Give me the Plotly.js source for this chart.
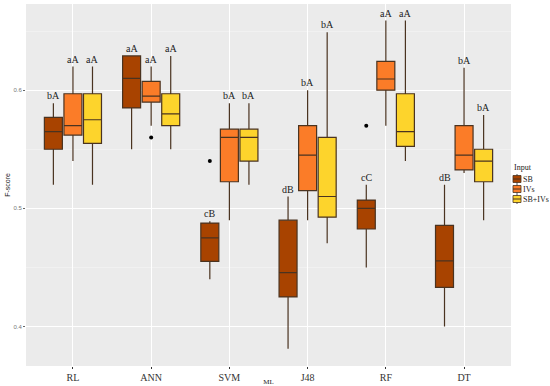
<!DOCTYPE html>
<html><head><meta charset="utf-8">
<script src="https://cdn.plot.ly/plotly-3.0.1.min.js"></script>
<style>html,body{margin:0;padding:0;background:#fff}#c{width:550px;height:386px}</style>
</head><body><div id="c"></div>
<script>
const categories = ["RL","ANN","SVM","J48","RF","DT"];
const seriesNames = ["SB","IVs","SB+IVs"];
const colors = ["#A84300","#FB7C28","#FDD42C"];

// per series, per category
const SB_low   = [0.520,0.550,0.440,0.381,0.450,0.400];
const SB_q1    = [0.550,0.585,0.455,0.425,0.4825,0.433];
const SB_med   = [0.565,0.610,0.475,0.4455,0.500,0.4555];
const SB_q3    = [0.577,0.629,0.4875,0.490,0.507,0.4855];
const SB_high  = [0.589,0.629,0.489,0.510,0.520,0.520];
const SB_lab   = ["bA","aA","cB","dB","cC","dB"];

const IV_low   = [0.540,0.570,0.490,0.490,0.570,0.530];
const IV_q1    = [0.562,0.590,0.5225,0.515,0.600,0.5325];
const IV_med   = [0.570,0.595,0.560,0.545,0.6095,0.545];
const IV_q3    = [0.597,0.6075,0.567,0.570,0.6245,0.570];
const IV_high  = [0.620,0.620,0.589,0.600,0.659,0.619];
const IV_lab   = ["aA","aA","bA","bA","aA","bA"];

const SI_low   = [0.520,0.550,0.520,0.4705,0.540,0.490];
const SI_q1    = [0.555,0.570,0.540,0.4925,0.5525,0.5225];
const SI_med   = [0.575,0.580,0.560,0.510,0.565,0.540];
const SI_q3    = [0.597,0.597,0.567,0.560,0.597,0.550];
const SI_high  = [0.620,0.629,0.589,0.649,0.659,0.579];
const SI_lab   = ["aA","aA","bA","bA","aA","bA"];

// outliers
const outCat = [1,2,4];
const outSer = [1,0,0];
const outVal = [0.560,0.540,0.570];

const stats = [
  {low:SB_low,q1:SB_q1,med:SB_med,q3:SB_q3,high:SB_high,lab:SB_lab},
  {low:IV_low,q1:IV_q1,med:IV_med,q3:IV_q3,high:IV_high,lab:IV_lab},
  {low:SI_low,q1:SI_q1,med:SI_med,q3:SI_q3,high:SI_high,lab:SI_lab}
];
const offsets = [-0.25,0,0.25];
const serif = "Liberation Serif, DejaVu Serif, serif";
const sans = "Liberation Sans, Arial, sans-serif";

const traces = [];
const annotations = [];
const shapes = [];
stats.forEach((s,k)=>{
  const xs = categories.map((c,i)=>i+offsets[k]);
  traces.push({
    type:"box", name:seriesNames[k], x:xs, showlegend:false,
    q1:s.q1, median:s.med, q3:s.q3, lowerfence:s.low, upperfence:s.high,
    width:0.23, whiskerwidth:0, boxpoints:false,
    fillcolor:colors[k], line:{color:"#4a3320",width:1.2},
    hoverinfo:"skip"
  });
  xs.forEach((x,i)=>annotations.push({
    x:x, y:s.high[i], xref:"x", yref:"y", text:s.lab[i], showarrow:false,
    yanchor:"bottom", yshift:0, font:{family:serif,size:10,color:"#222"}
  }));
});
traces.push({
  type:"scatter", mode:"markers", showlegend:false,
  x:outCat.map((c,j)=>c+offsets[outSer[j]]), y:outVal,
  marker:{color:"#000",size:4}, hoverinfo:"skip"
});

// custom compact legend (paper coordinates)
const W = 485, H = 362, L = 26, B = 366;
const px = v => (v - L) / W;
const py = v => (B - v) / H;
annotations.push({xref:"paper",yref:"paper",x:px(512),y:py(167),xanchor:"left",yanchor:"middle",
  text:"Input",showarrow:false,font:{family:serif,size:8,color:"#222"}});
seriesNames.forEach((n,k)=>{
  const cy = 179 + k*10;
  shapes.push({type:"line",xref:"paper",yref:"paper",x0:px(517),x1:px(517),y0:py(cy-5),y1:py(cy+5),
    line:{color:"#555",width:1}});
  shapes.push({type:"rect",xref:"paper",yref:"paper",x0:px(513),x1:px(521),y0:py(cy-3.5),y1:py(cy+3.5),
    fillcolor:colors[k],line:{color:"#4a3320",width:0.8}});
  shapes.push({type:"line",xref:"paper",yref:"paper",x0:px(513),x1:px(521),y0:py(cy),y1:py(cy),
    line:{color:"#4a3320",width:1}});
  annotations.push({xref:"paper",yref:"paper",x:px(521),y:py(cy),xanchor:"left",yanchor:"middle",
    text:n,showarrow:false,font:{family:serif,size:8,color:"#222"}});
});

const layout = {
  width:550, height:386,
  margin:{l:26,r:39,t:4,b:20},
  paper_bgcolor:"#fff", plot_bgcolor:"#EBEBEB",
  showlegend:false,
  xaxis:{range:[-0.6,5.6],tickvals:[0,1,2,3,4,5],ticktext:categories,
    showgrid:true,gridcolor:"#fff",gridwidth:1,zeroline:false,
    ticks:"outside",ticklen:2,tickcolor:"#333",
    tickfont:{family:serif,size:10,color:"#333"},
    title:{text:"ML",font:{family:serif,size:7,color:"#222"},standoff:0}},
  yaxis:{range:[0.3665,0.673],tickvals:[0.4,0.5,0.6],ticktext:["0.4","0.5","0.6"],
    showgrid:true,gridcolor:"#fff",gridwidth:1,zeroline:false,
    minor:{tickvals:[0.45,0.55,0.65],showgrid:true,gridcolor:"#F5F5F5",gridwidth:0.6,ticks:""},
    ticks:"outside",ticklen:2,tickcolor:"#666",
    tickfont:{family:sans,size:6,color:"#777"},
    title:{text:"F-score",font:{family:sans,size:7,color:"#222"},standoff:2}},
  shapes:shapes,
  annotations:annotations
};
Plotly.newPlot("c",traces,layout,{staticPlot:true,displayModeBar:false});
</script></body></html>
